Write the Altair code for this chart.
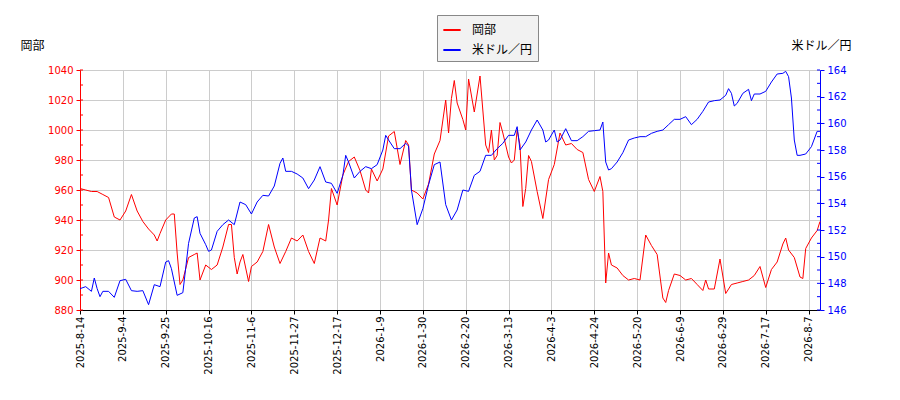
import altair as alt
import pandas as pd

jp_font = "Noto Sans CJK JP"
num_font = "DejaVu Sans"

# x tick labels, one every 15 trading days
tick_labels = ["2025-8-14", "2025-9-4", "2025-9-25", "2025-10-16", "2025-11-6",
               "2025-11-27", "2025-12-17", "2026-1-9", "2026-1-30", "2026-2-20",
               "2026-3-13", "2026-4-3", "2026-4-24", "2026-5-20", "2026-6-9",
               "2026-6-29", "2026-7-17", "2026-8-7"]
tick_idx = [i * 15 for i in range(len(tick_labels))]

# 岡部 (trading day index, price)
red_idx = [0, 2, 4, 6, 8, 10, 12, 14, 16, 18, 20, 22, 24, 26, 27, 28, 30, 32, 33, 34,
           35, 36, 38, 40, 41, 42, 44, 46, 48, 50, 52, 53, 54, 55, 56, 57, 58, 59, 60, 62,
           64, 66, 68, 70, 72, 74, 76, 78, 80, 82, 84, 86, 87, 88, 90, 92, 94, 96, 98, 100,
           101, 102, 104, 106, 108, 110, 112, 114, 115, 116, 118, 120, 122, 124, 126, 128, 129, 130, 131, 132,
           134, 135, 136, 138, 140, 142, 143, 144, 145, 146, 147, 148, 150, 151, 152, 153, 154, 155, 156, 157,
           158, 160, 162, 164, 166, 168, 170, 172, 174, 176, 178, 180, 182, 183, 184, 185, 186, 188, 190, 192,
           194, 196, 198, 200, 202, 204, 205, 206, 208, 210, 212, 214, 216, 218, 219, 220, 222, 224, 226, 228,
           230, 232, 234, 236, 238, 240, 242, 244, 246, 247, 248, 250, 252, 253, 254, 256, 258, 259]
red_val = [961, 960, 959, 959, 957, 955, 942, 940, 946, 957, 946, 939, 934, 930, 926, 931, 940, 944, 944, 918,
           897, 900, 915, 917, 918, 900, 910, 907, 910, 922, 937, 937, 915, 904, 912, 917, 908, 899, 909, 912,
           919, 937, 922, 911, 919, 928, 926, 930, 919, 911, 928, 926, 940, 961, 950, 970, 979, 982, 973, 960,
           958, 974, 966, 974, 996, 999, 977, 993, 990, 960, 958, 954, 964, 984, 993, 1020, 998, 1021, 1033, 1018,
           1007, 1000, 1034, 1012, 1036, 990, 985, 1000, 980, 983, 1005, 998, 982, 978, 980, 1000, 990, 949, 961, 983,
           979, 959, 941, 967, 977, 998, 990, 991, 987, 985, 967, 959, 969, 959, 898, 918, 910, 908, 903, 900,
           901, 900, 930, 923, 917, 888, 885, 893, 904, 903, 900, 901, 897, 893, 900, 894, 894, 914, 891, 897,
           898, 899, 900, 903, 909, 895, 907, 912, 924, 928, 920, 915, 902, 901, 921, 928, 933, 939]

# 米ドル／円 (trading day index, rate)
blue_idx = [0, 2, 4, 5, 6, 7, 8, 10, 12, 14, 16, 18, 20, 22, 24, 26, 28, 30, 31, 32,
            34, 36, 38, 40, 41, 42, 44, 45, 46, 48, 50, 52, 54, 56, 58, 60, 62, 64, 66, 68,
            70, 71, 72, 74, 76, 78, 80, 82, 84, 86, 88, 90, 92, 93, 94, 96, 98, 100, 102, 104,
            106, 107, 108, 110, 112, 114, 115, 116, 118, 120, 122, 124, 126, 128, 130, 132, 134, 136, 138, 140,
            142, 144, 146, 148, 150, 152, 153, 154, 156, 158, 160, 162, 163, 164, 166, 167, 168, 170, 172, 174,
            176, 178, 180, 182, 183, 184, 185, 186, 188, 190, 192, 194, 196, 198, 200, 202, 204, 206, 208, 210,
            212, 214, 216, 218, 220, 222, 224, 226, 227, 228, 229, 230, 232, 234, 235, 236, 238, 240, 242, 244,
            246, 247, 248, 249, 250, 251, 252, 254, 256, 258, 259]
blue_val = [147.6, 147.75, 147.4, 148.4, 147.6, 147.0, 147.4, 147.4, 146.95, 148.2, 148.3, 147.45, 147.4, 147.45, 146.4, 147.9, 147.75, 149.6, 149.7, 149.1,
            147.1, 147.3, 151.0, 152.9, 153.0, 151.75, 150.9, 150.4, 150.5, 151.9, 152.4, 152.75, 152.4, 154.1, 153.9, 153.2, 154.1, 154.6, 154.55, 155.3,
            157.0, 157.4, 156.4, 156.4, 156.2, 155.9, 155.1, 155.75, 156.75, 155.6, 155.5, 154.75, 156.1, 157.6, 157.1, 155.9, 156.4, 156.75, 156.6, 156.9,
            158.0, 159.1, 158.75, 158.1, 158.1, 158.5, 158.3, 155.0, 152.4, 153.6, 155.4, 156.9, 157.1, 153.9, 152.75, 153.5, 155.0, 154.9, 156.1, 156.4,
            157.6, 157.6, 158.1, 158.5, 159.1, 159.1, 159.75, 158.0, 158.6, 159.5, 160.25, 159.5, 158.6, 158.75, 159.5, 158.6, 158.75, 159.6, 158.7, 158.7,
            159.0, 159.4, 159.45, 159.5, 160.1, 157.1, 156.5, 156.6, 157.1, 157.8, 158.75, 158.9, 159.0, 159.0, 159.25, 159.4, 159.5, 159.9, 160.3, 160.3,
            160.5, 159.9, 160.3, 160.9, 161.6, 161.7, 161.75, 162.1, 162.6, 162.25, 161.3, 161.5, 162.25, 162.55, 161.7, 162.2, 162.2, 162.4, 163.1, 163.7,
            163.75, 163.9, 163.5, 161.9, 158.75, 157.6, 157.6, 157.7, 158.25, 159.4, 159.4]

left_ticks = list(range(880, 1041, 20))
left_minor = list(range(880, 1041, 10))
right_ticks = list(range(146, 165, 2))
right_minor = list(range(146, 165, 1))

red_df = pd.DataFrame({"idx": red_idx, "value": red_val, "series": "岡部"})
blue_df = pd.DataFrame({"idx": blue_idx, "value": blue_val, "series": "米ドル／円"})

label_expr = "[" + ",".join("'%s'" % s for s in tick_labels) + "][round(datum.value / 15)]"

x_enc = alt.X("idx:Q",
              scale=alt.Scale(domain=[0, 259], nice=False, zero=False),
              axis=alt.Axis(values=tick_idx, labelExpr=label_expr, labelAngle=270,
                            title=None, grid=True, gridColor="#cccccc",
                            domainColor="black", tickColor="black", tickSize=4,
                            labelFont=num_font, labelFontSize=10, labelColor="black",
                            labelPadding=2))

color_enc = alt.Color("series:N",
                      scale=alt.Scale(domain=["岡部", "米ドル／円"], range=["#ff0000", "#0000ff"]),
                      legend=alt.Legend(orient="none", legendX=357, legendY=-55, title=None,
                                        symbolType="stroke", symbolSize=300, symbolStrokeWidth=2,
                                        labelFont=jp_font, labelFontSize=12, labelColor="black",
                                        fillColor="#f2f2f2", strokeColor="#888888",
                                        padding=5, rowPadding=4, labelOffset=10))

y_left = alt.Y("value:Q",
               scale=alt.Scale(domain=[880, 1040], nice=False, zero=False),
               axis=alt.Axis(orient="left", values=left_ticks, format="d", labelColor="red",
                             domainColor="red", tickColor="red", tickSize=4,
                             labelFont=num_font, labelFontSize=10, labelPadding=3,
                             grid=True, gridColor="#cccccc",
                             title="岡部", titleAngle=0, titleX=-60, titleY=-25,
                             titleAlign="left", titleBaseline="middle",
                             titleFont=jp_font, titleFontSize=12,
                             titleFontWeight="normal", titleColor="black"))

y_right = alt.Y("value:Q",
                scale=alt.Scale(domain=[146, 164], nice=False, zero=False),
                axis=alt.Axis(orient="right", values=right_ticks, format="d", labelColor="blue",
                              domainColor="blue", tickColor="blue", tickSize=4,
                              labelFont=num_font, labelFontSize=10, labelPadding=3,
                              grid=False,
                              title="米ドル／円", titleAngle=0, titleX=31, titleY=-25,
                              titleAlign="right", titleBaseline="middle",
                              titleFont=jp_font, titleFontSize=12,
                              titleFontWeight="normal", titleColor="black"))

red_line = alt.Chart(red_df).mark_line(strokeWidth=1, interpolate="linear").encode(
    x=x_enc, y=y_left, color=color_enc)
red_minor = alt.Chart(pd.DataFrame({"value": left_minor})).mark_rule(color="red", strokeWidth=1).encode(
    y=y_left, x=alt.value(0), x2=alt.value(3))

blue_line = alt.Chart(blue_df).mark_line(strokeWidth=1, interpolate="linear").encode(
    x=x_enc, y=y_right, color=color_enc)
blue_minor = alt.Chart(pd.DataFrame({"value": right_minor})).mark_rule(color="blue", strokeWidth=1).encode(
    y=y_right, x=alt.value(740), x2=alt.value(737))

chart = alt.layer(
    alt.layer(red_line, red_minor),
    alt.layer(blue_line, blue_minor),
).resolve_scale(y="independent").properties(
    width=740, height=240,
    autosize=alt.AutoSizeParams(type="none"),
    padding={"left": 72, "top": 62, "right": 72, "bottom": 82},
).configure_view(stroke=None).configure(background="white")

chart.save("out.html", embed_options={"renderer": "svg", "actions": False})
